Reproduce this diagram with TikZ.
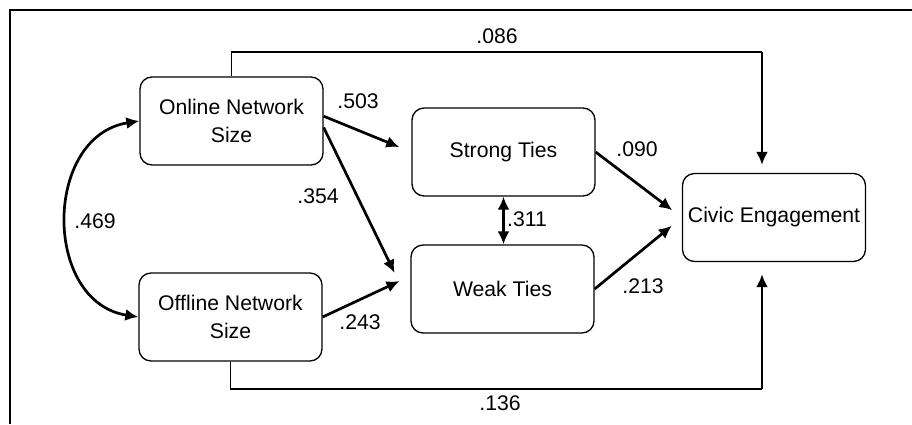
\documentclass[tikz,border=0pt]{standalone}
\usepackage{fontspec}
\setmainfont{Liberation Sans}
\usetikzlibrary{arrows.meta}

\tikzset{
  box/.style = {draw, rounded corners=6pt, minimum width=91.5pt, minimum height=44pt,
                align=center, inner sep=0pt, line width=0.65pt},
  link/.style = {line width=1.35pt, ->},
  plain/.style = {line width=0.75pt},
  lbl/.style = {inner sep=0pt}
}

\begin{document}
\begin{tikzpicture}[x=0.5pt, y=-0.5pt, font=\fontsize{10.6}{13.8}\selectfont,
  >={Latex[length=6.5pt,width=6pt]}]
\useasboundingbox (0,0) rectangle (912,424);
\draw [plain] (912,10) -- (10,10) -- (10,424);

% variables
\node [box] (online)  at (231.5,121) {Online Network\\Size};
\node [box] (offline) at (230.5,317) {Offline Network\\Size};
\node [box] (strong)  at (503.5,152) {Strong Ties};
\node [box] (weak)    at (502.5,289) {Weak Ties};
\node [box] (civic)   at (774,217.5) {Civic Engagement};

% direct paths round the outside
\coordinate (topbend) at (762,52);
\coordinate (botbend) at (762,389);
\draw [plain] (online.north) |- (topbend);
\draw [link, shorten >=4pt] (topbend) -- (topbend |- civic.north);
\draw [plain] (offline.south) |- (botbend);
\draw [link, shorten >=6pt] (botbend) -- (botbend |- civic.south);

% paths through the ties
\draw [link, shorten >=6.5pt] (online.3) -- (strong.west);
\draw [link, shorten >=18pt] (online.-4) -- (weak.190);
\draw [link, shorten >=6pt] (offline.east) -- (weak.172);
\draw [link, shorten >=6pt] (strong.east) -- (civic.west);
\draw [link, shorten >=6.5pt] (weak.east) -- (civic.west);
\draw [link, <->] (strong.south) -- (strong.south |- weak.north);
\draw [link, <->] (online.west) .. controls +(-96,15) and +(-96,-15) .. (offline.west);

% coefficients
\node [lbl] (c086) at (497,36)  {.086};
\node [lbl] (c136) at (500,403) {.136};
\node [lbl] (c503) at (358,101) {.503};
\node [lbl] (c354) at (318,196) {.354};
\node [lbl] (c469) at (95,221)  {.469};
\node [lbl] (c243) at (360,322) {.243};
\node [lbl] (c090) at (637,149) {.090};
\node [lbl] (c311) at (527,219) {.311};
\node [lbl] (c213) at (643,286) {.213};
\end{tikzpicture}
\end{document}
